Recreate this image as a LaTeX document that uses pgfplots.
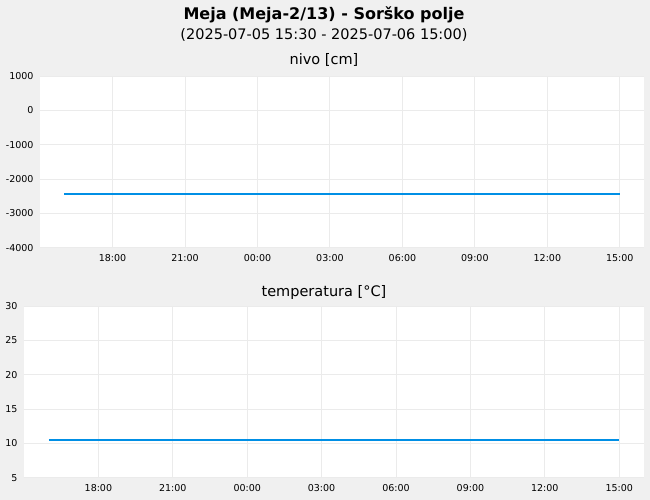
\documentclass[border=0pt]{standalone}
\usepackage{fontspec}
\setmainfont{DejaVu Sans}
\usepackage{pgfplots}
\pgfplotsset{compat=1.18}

\definecolor{bg}{HTML}{F0F0F0}
\definecolor{gridc}{HTML}{EBEBEB}
\definecolor{series}{RGB}{0,143,229}

\pgfplotsset{
  panel/.style={
    scale only axis,
    anchor=south west,
    axis background/.style={fill=white},
    axis line style={draw=none},
    major tick length=0pt,
    grid=major,
    major grid style={draw=gridc, line width=0.9pt},
    xmin=15, xmax=40,
    xtick={18,21,...,39},
    xticklabels={18:00,21:00,00:00,03:00,06:00,09:00,12:00,15:00},
    tick label style={font=\fontsize{9.5}{11}\selectfont, text=black},
    xticklabel style={yshift=-3pt},
    yticklabel style={xshift=-3pt},
    clip=false,
  },
  line/.style={draw=series, line width=1.8pt, mark=none},
}

\begin{document}
\begin{tikzpicture}
  \path[use as bounding box, fill=bg] (0pt,0pt) rectangle (650pt,500pt);

  \node[anchor=base, font=\fontsize{16}{18}\selectfont\bfseries] at (324pt,480pt) {Meja (Meja-2/13) - Sorško polje};
  \node[anchor=base, font=\fontsize{14.5}{16}\selectfont] at (324pt,460.5pt) {(2025-07-05 15:30 - 2025-07-06 15:00)};
  \node[anchor=base, font=\fontsize{14.5}{16}\selectfont] at (324pt,435pt) {nivo [cm]};
  \node[anchor=base, font=\fontsize{14.5}{16}\selectfont] at (324pt,203.3pt) {temperatura [°C]};

  % nivo
  \begin{axis}[panel,
    at={(40pt,252.3pt)}, width=604pt, height=171.7pt,
    ymin=-4000, ymax=1000,
    ytick={-4000,-3000,-2000,-1000,0,1000},
    yticklabels={-4000,-3000,-2000,-1000,0,1000},
  ]
    \addplot[line] coordinates {
      (16,-2440) (17,-2440) (18,-2440) (19,-2440) (20,-2440) (21,-2440)
      (22,-2440) (23,-2440) (24,-2440) (25,-2440) (26,-2440) (27,-2440)
      (28,-2440) (29,-2440) (30,-2440) (31,-2440) (32,-2440) (33,-2440)
      (34,-2440) (35,-2440) (36,-2440) (37,-2440) (38,-2440) (39,-2440)
    };
  \end{axis}

  % temperatura
  \begin{axis}[panel,
    at={(24pt,22.3pt)}, width=620pt, height=171.7pt,
    ymin=5, ymax=30,
    ytick={5,10,...,30},
    yticklabels={5,10,15,20,25,30},
  ]
    \addplot[line] coordinates {
      (16,10.5) (17,10.5) (18,10.5) (19,10.5) (20,10.5) (21,10.5)
      (22,10.5) (23,10.5) (24,10.5) (25,10.5) (26,10.5) (27,10.5)
      (28,10.5) (29,10.5) (30,10.5) (31,10.5) (32,10.5) (33,10.5)
      (34,10.5) (35,10.5) (36,10.5) (37,10.5) (38,10.5) (39,10.5)
    };
  \end{axis}
\end{tikzpicture}
\end{document}
